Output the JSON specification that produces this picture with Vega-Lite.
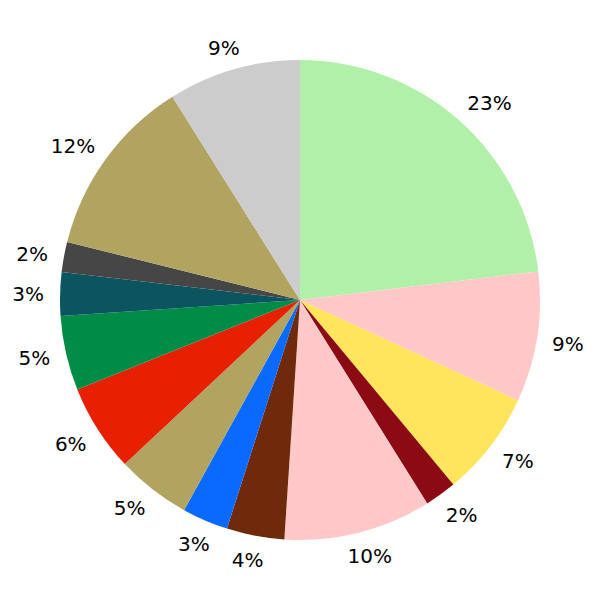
{
  "$schema": "https://vega.github.io/schema/vega-lite/v6.json",
  "width": 600,
  "height": 600,
  "autosize": {"type": "fit", "contains": "padding"},
  "padding": 0,
  "background": "white",
  "view": {"stroke": null},
  "data": {
    "values": [
      {"idx": 1, "cat": "a", "share": 0.231},
      {"idx": 2, "cat": "b", "share": 0.0877},
      {"idx": 3, "cat": "c", "share": 0.0709},
      {"idx": 4, "cat": "d", "share": 0.0214},
      {"idx": 5, "cat": "e", "share": 0.0993},
      {"idx": 6, "cat": "f", "share": 0.0388},
      {"idx": 7, "cat": "g", "share": 0.031},
      {"idx": 8, "cat": "h", "share": 0.05},
      {"idx": 9, "cat": "i", "share": 0.059},
      {"idx": 10, "cat": "j", "share": 0.0501},
      {"idx": 11, "cat": "k", "share": 0.0292},
      {"idx": 12, "cat": "l", "share": 0.0203},
      {"idx": 13, "cat": "m", "share": 0.1219},
      {"idx": 14, "cat": "n", "share": 0.0892}
    ]
  },
  "encoding": {
    "theta": {"field": "share", "type": "quantitative", "stack": true},
    "order": {"field": "idx", "type": "quantitative"},
    "color": {
      "field": "cat",
      "type": "nominal",
      "legend": null,
      "scale": {
        "domain": ["a","b","c","d","e","f","g","h","i","j","k","l","m","n"],
        "range": ["#b0f0a8","#ffc8c8","#ffe45c","#8c0a14","#ffc8c8","#6e2a0a","#0a6aff","#b0a460","#e62000","#008c46","#0a5560","#464646","#b0a460","#cccccc"]
      }
    }
  },
  "layer": [
    {"mark": {"type": "arc", "outerRadius": 240}},
    {
      "mark": {"type": "text", "radius": 257, "dx": 19, "dy": -4, "fontSize": 20, "font": "DejaVu Sans", "align": "center", "baseline": "middle"},
      "encoding": {"text": {"condition": {"test": "indexof([1], datum.idx) >= 0", "field": "share", "type": "quantitative", "format": ".0%"}, "value": ""}, "color": {"value": "black"}}
    },
    {
      "mark": {"type": "text", "radius": 257, "dx": 14, "dy": 5, "fontSize": 20, "font": "DejaVu Sans", "align": "center", "baseline": "middle"},
      "encoding": {"text": {"condition": {"test": "indexof([2,3], datum.idx) >= 0", "field": "share", "type": "quantitative", "format": ".0%"}, "value": ""}, "color": {"value": "black"}}
    },
    {
      "mark": {"type": "text", "radius": 257, "dx": 11, "dy": 8, "fontSize": 20, "font": "DejaVu Sans", "align": "center", "baseline": "middle"},
      "encoding": {"text": {"condition": {"test": "indexof([4], datum.idx) >= 0", "field": "share", "type": "quantitative", "format": ".0%"}, "value": ""}, "color": {"value": "black"}}
    },
    {
      "mark": {"type": "text", "radius": 257, "dx": 7, "dy": 8, "fontSize": 20, "font": "DejaVu Sans", "align": "center", "baseline": "middle"},
      "encoding": {"text": {"condition": {"test": "indexof([5], datum.idx) >= 0", "field": "share", "type": "quantitative", "format": ".0%"}, "value": ""}, "color": {"value": "black"}}
    },
    {
      "mark": {"type": "text", "radius": 257, "dx": -4.5, "dy": 8.5, "fontSize": 20, "font": "DejaVu Sans", "align": "center", "baseline": "middle"},
      "encoding": {"text": {"condition": {"test": "indexof([6,7], datum.idx) >= 0", "field": "share", "type": "quantitative", "format": ".0%"}, "value": ""}, "color": {"value": "black"}}
    },
    {
      "mark": {"type": "text", "radius": 257, "dx": -12.5, "dy": 6.5, "fontSize": 20, "font": "DejaVu Sans", "align": "center", "baseline": "middle"},
      "encoding": {"text": {"condition": {"test": "indexof([8,9], datum.idx) >= 0", "field": "share", "type": "quantitative", "format": ".0%"}, "value": ""}, "color": {"value": "black"}}
    },
    {
      "mark": {"type": "text", "radius": 257, "dx": -15, "dy": 1.5, "fontSize": 20, "font": "DejaVu Sans", "align": "center", "baseline": "middle"},
      "encoding": {"text": {"condition": {"test": "indexof([10,11,12], datum.idx) >= 0", "field": "share", "type": "quantitative", "format": ".0%"}, "value": ""}, "color": {"value": "black"}}
    },
    {
      "mark": {"type": "text", "radius": 257, "dx": -19, "dy": -2.5, "fontSize": 20, "font": "DejaVu Sans", "align": "center", "baseline": "middle"},
      "encoding": {"text": {"condition": {"test": "indexof([13], datum.idx) >= 0", "field": "share", "type": "quantitative", "format": ".0%"}, "value": ""}, "color": {"value": "black"}}
    },
    {
      "mark": {"type": "text", "radius": 257, "dx": -5, "dy": -4.5, "fontSize": 20, "font": "DejaVu Sans", "align": "center", "baseline": "middle"},
      "encoding": {"text": {"condition": {"test": "indexof([14], datum.idx) >= 0", "field": "share", "type": "quantitative", "format": ".0%"}, "value": ""}, "color": {"value": "black"}}
    }
  ]
}
